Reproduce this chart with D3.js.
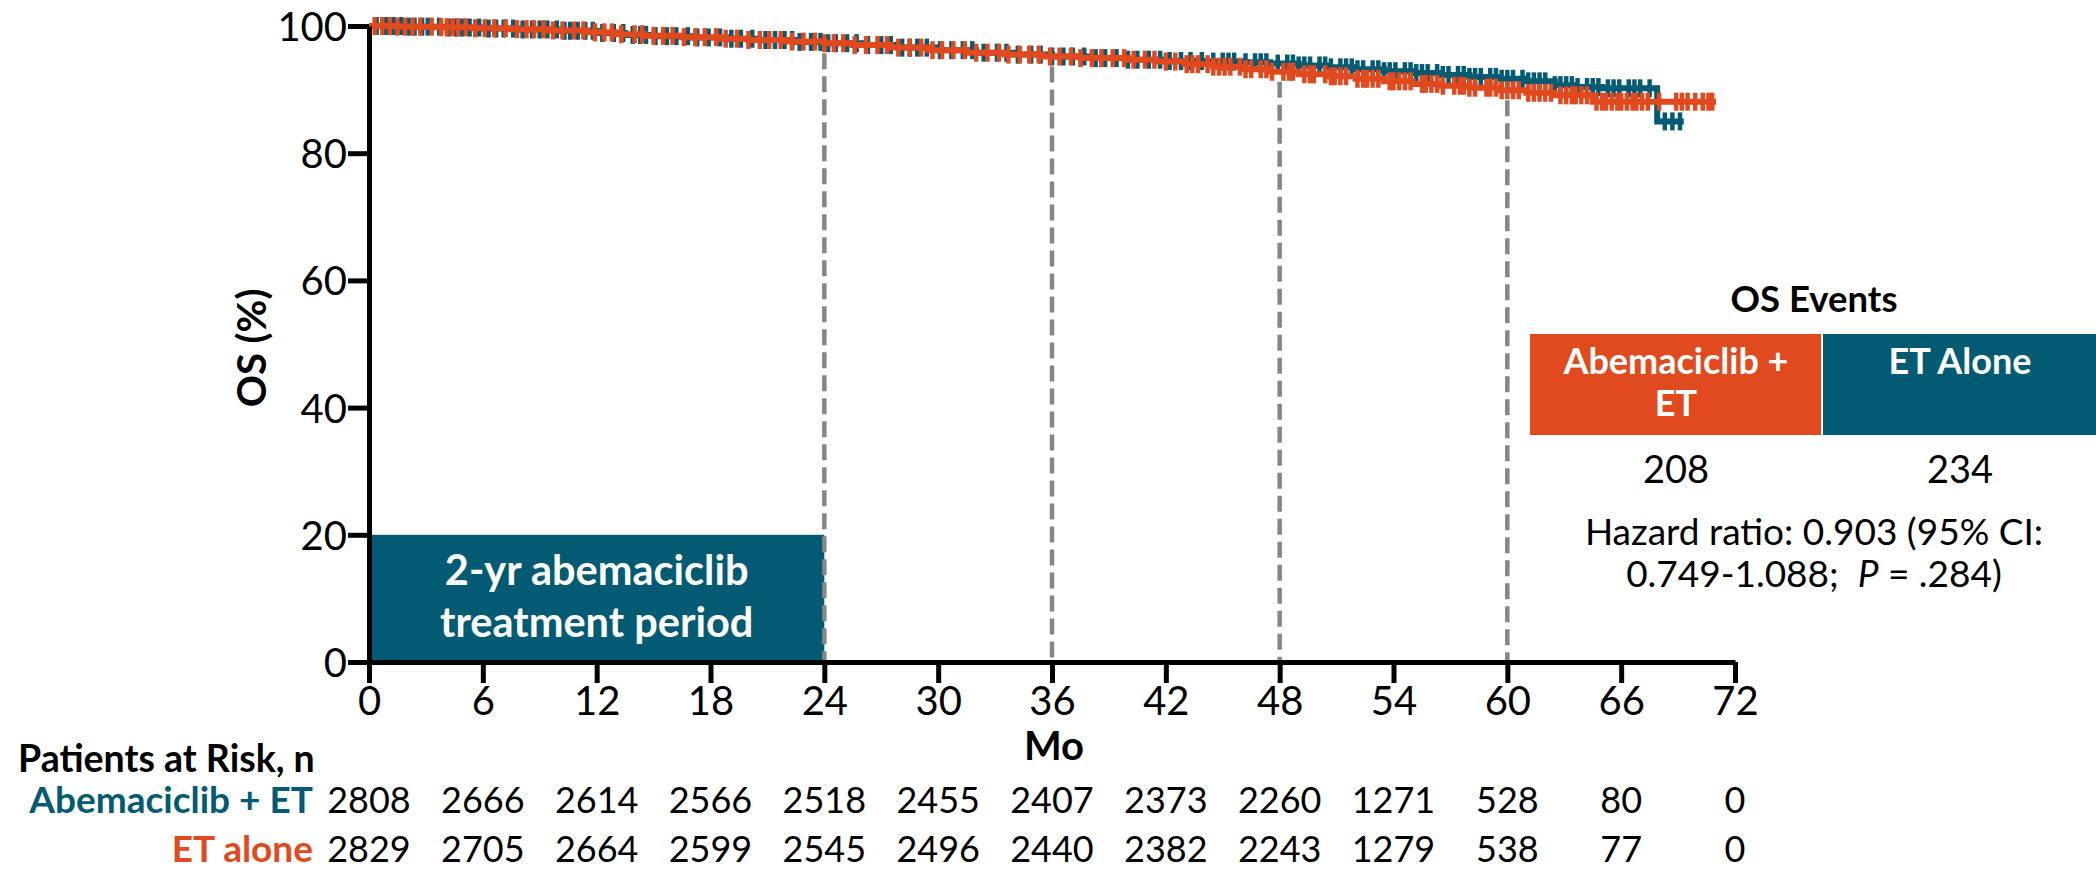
<!DOCTYPE html>
<html>
<head>
<meta charset="utf-8">
<script src="https://cdn.jsdelivr.net/npm/d3@7"></script>
<style>
  html, body { margin: 0; padding: 0; background: #fff; }
  svg { display: block; }
  text { font-family: Lato, "Noto Sans", sans-serif; }
</style>
</head>
<body>
<svg id="chart" width="2096" height="872"></svg>
<script>
// ---------------- DATA ----------------
const xTicks = [0, 6, 12, 18, 24, 30, 36, 42, 48, 54, 60, 66, 72];
const yTicks = [0, 20, 40, 60, 80, 100];

const riskAbema = [2808, 2666, 2614, 2566, 2518, 2455, 2407, 2373, 2260, 1271, 528, 80, 0];
const riskET    = [2829, 2705, 2664, 2599, 2545, 2496, 2440, 2382, 2243, 1279, 538, 77, 0];

// Abemaciclib + ET (teal) KM steps: time (months), OS (%)
const abemaTime = [0, 2, 4, 6, 8, 10, 12, 13.5, 15, 17, 19, 20.5, 22.5, 24, 26, 28, 30, 32, 34, 36, 38, 40, 42, 44, 46, 47.5, 49, 50.5, 52, 53.5, 55, 56.5, 58, 59.5, 61, 62.5, 63.5, 65, 67.9];
const abemaOS   = [100, 99.9, 99.75, 99.6, 99.45, 99.25, 98.9, 98.6, 98.4, 98.2, 98.0, 97.8, 97.5, 97.3, 97.0, 96.6, 96.2, 95.8, 95.5, 95.2, 94.95, 94.7, 94.5, 94.4, 94.3, 94.1, 93.8, 93.5, 93.2, 92.9, 92.6, 92.3, 92.0, 91.7, 91.3, 90.7, 90.4, 90.2, 85.0];
const abemaEnd  = 69.3;
const abemaCensor = [0.4, 0.9, 1.3, 1.7, 2.1, 2.4, 2.8, 3.1, 3.7, 4.2, 4.6, 4.9, 5.3, 5.8, 6.3, 6.7, 7.1, 7.6, 8.1, 8.6, 9.0, 9.4, 9.9, 10.3, 10.6, 11.0, 11.4, 11.8, 12.3, 12.9, 13.4, 13.9, 14.3, 14.6, 15.1, 15.7, 16.2, 16.8, 17.3, 17.9, 18.5, 19.1, 19.6, 20.2, 20.9, 21.4, 21.9, 22.3, 22.7, 23.3, 23.8, 24.2, 24.6, 25.2, 25.7, 26.3, 27.0, 27.5, 28.1, 28.5, 28.9, 29.4, 30.1, 30.7, 31.3, 31.8, 32.4, 33.1, 33.6, 34.2, 34.9, 35.4, 36.0, 36.6, 37.1, 37.7, 38.3, 38.8, 39.4, 40.0, 40.5, 41.1, 41.7, 42.2, 42.8, 43.3, 43.9, 44.5, 45.0, 45.3, 45.6, 46.2, 46.7, 47.0, 47.3, 47.9, 48.4, 48.7, 49.0, 49.3, 49.6, 50.1, 50.4, 50.7, 51.2, 51.5, 51.8, 52.1, 52.4, 52.9, 53.2, 53.5, 53.8, 54.1, 54.6, 54.9, 55.2, 55.5, 55.8, 56.3, 56.6, 56.9, 57.4, 57.7, 58.0, 58.3, 58.6, 59.1, 59.4, 59.7, 60.0, 60.3, 60.8, 61.1, 61.4, 61.7, 62.0, 62.5, 62.8, 63.1, 63.4, 63.7, 64.2, 64.5, 64.8, 65.3, 65.6, 65.9, 66.4, 66.7, 67.0, 67.5, 68.3, 68.7, 69.1];

// ET alone (orange) KM steps
const etTime = [0, 1.5, 3.5, 5.5, 7.5, 9.5, 11.5, 13, 14.5, 16.5, 18.5, 20, 22, 24, 25.5, 27.5, 29.5, 31.5, 33.5, 35.5, 37.5, 40, 41.5, 43, 44.5, 46, 47.5, 49, 50.5, 52, 53.5, 55, 56.5, 58, 59.5, 61, 62.5, 64.5];
const etOS   = [100, 99.9, 99.8, 99.65, 99.5, 99.3, 99.0, 98.7, 98.45, 98.25, 98.0, 97.8, 97.55, 97.3, 97.0, 96.6, 96.2, 95.8, 95.5, 95.2, 94.95, 94.7, 94.4, 94.0, 93.6, 93.2, 92.8, 92.4, 92.1, 91.7, 91.3, 90.9, 90.6, 90.3, 89.9, 89.5, 89.1, 88.1];
const etEnd  = 71.0;
const etCensor = [0.3, 0.7, 1.1, 1.5, 1.9, 2.3, 2.7, 3.3, 3.8, 4.1, 4.4, 4.7, 5.1, 5.6, 6.1, 6.6, 7.2, 7.8, 8.3, 8.7, 9.2, 9.7, 10.2, 10.8, 11.3, 11.9, 12.4, 12.8, 13.3, 14.0, 14.4, 15.0, 15.5, 16.0, 16.6, 17.2, 17.7, 18.3, 18.8, 19.4, 20.0, 20.6, 21.1, 21.7, 22.3, 22.9, 23.5, 24.0, 24.5, 25.0, 25.6, 26.2, 26.8, 27.3, 27.9, 28.5, 29.1, 29.7, 30.2, 30.8, 31.4, 32.0, 32.6, 33.2, 33.7, 34.3, 34.8, 35.3, 35.9, 36.4, 37.0, 37.5, 38.1, 38.6, 39.2, 39.8, 40.3, 40.9, 41.4, 42.0, 42.5, 43.1, 43.4, 43.7, 44.2, 44.5, 44.8, 45.1, 45.4, 45.9, 46.2, 46.5, 47.0, 47.3, 47.6, 48.2, 48.5, 48.7, 49.3, 49.6, 49.8, 50.4, 50.7, 50.9, 51.2, 51.5, 52.1, 52.4, 52.6, 52.9, 53.2, 53.8, 54.0, 54.3, 54.6, 54.9, 55.5, 55.7, 56.0, 56.3, 56.6, 57.2, 57.5, 57.7, 58.0, 58.3, 58.9, 59.1, 59.4, 59.7, 60.0, 60.3, 60.6, 61.1, 61.4, 61.7, 62.0, 62.3, 62.8, 63.1, 63.4, 63.6, 63.9, 64.2, 64.7, 65.0, 65.2, 65.5, 65.8, 66.0, 66.3, 66.6, 66.8, 67.1, 67.4, 68.0, 68.9, 69.2, 69.5, 69.9, 70.3, 70.6, 70.8];

const landmarks = [24, 36, 48, 60];

const colTeal = "#035b73";
const colOrange = "#e04a1e";
const colDash = "#868686";

// ---------------- LAYOUT ----------------
const svg = d3.select("#chart");
const x = d3.scaleLinear().domain([0, 72]).range([369, 1735]);
const y = d3.scaleLinear().domain([0, 100]).range([662, 26]);

function survAt(times, vals, t) {
  let v = vals[0];
  for (let i = 0; i < times.length; i++) { if (times[i] <= t) v = vals[i]; }
  return v;
}

// treatment period box
svg.append("rect")
  .attr("x", x(0)).attr("y", y(20))
  .attr("width", x(24) - x(0)).attr("height", y(0) - y(20))
  .attr("fill", colTeal);
const boxText = svg.append("text")
  .attr("text-anchor", "middle").attr("fill", "#fff")
  .attr("font-weight", 700).attr("font-size", 41.5);
boxText.append("tspan").attr("x", (x(0) + x(24)) / 2).attr("y", 585).text("2-yr abemaciclib");
boxText.append("tspan").attr("x", (x(0) + x(24)) / 2).attr("y", 637).text("treatment period");

// landmark dashed lines
landmarks.forEach(t => {
  const v = Math.min(survAt(abemaTime, abemaOS, t), survAt(etTime, etOS, t));
  svg.append("line")
    .attr("x1", x(t)).attr("x2", x(t))
    .attr("y1", y(v) + 10).attr("y2", y(0))
    .attr("stroke", colDash).attr("stroke-width", 4.5)
    .attr("stroke-dasharray", "16,7");
});

// KM curves
function drawKM(times, vals, end, censor, color) {
  const pts = times.map((t, i) => [t, vals[i]]);
  pts.push([end, vals[vals.length - 1]]);
  const line = d3.line().x(d => x(d[0])).y(d => y(d[1])).curve(d3.curveStepAfter);
  const g = svg.append("g");
  g.append("path").attr("d", line(pts))
    .attr("fill", "none").attr("stroke", color).attr("stroke-width", 6);
  g.selectAll("line.c").data(censor).enter().append("line")
    .attr("x1", d => x(d)).attr("x2", d => x(d))
    .attr("y1", d => y(survAt(times, vals, d)) - 9)
    .attr("y2", d => y(survAt(times, vals, d)) + 9)
    .attr("stroke", color).attr("stroke-width", 4.5);
}
drawKM(abemaTime, abemaOS, abemaEnd, abemaCensor, colTeal);
drawKM(etTime, etOS, etEnd, etCensor, colOrange);

// axes
const xAxis = svg.append("g").attr("transform", `translate(0,${y(0)})`)
  .call(d3.axisBottom(x).tickValues(xTicks).tickSize(21).tickPadding(4).tickSizeOuter(0));
const yAxis = svg.append("g").attr("transform", `translate(${x(0)},0)`)
  .call(d3.axisLeft(y).tickValues(yTicks).tickSize(21).tickPadding(1).tickSizeOuter(0));
[xAxis, yAxis].forEach(a => {
  a.select(".domain").attr("stroke", "#000").attr("stroke-width", 5);
  a.selectAll(".tick line").attr("stroke", "#000").attr("stroke-width", 5);
  a.selectAll(".tick text").attr("fill", "#000").attr("font-size", 40)
    .attr("font-family", "Lato, sans-serif");
});
xAxis.selectAll(".tick text").attr("dy", "0.71em");
yAxis.selectAll(".tick text").attr("dy", "0.36em");

// axis titles
svg.append("text").attr("x", 1054).attr("y", 760).attr("text-anchor", "middle")
  .attr("font-weight", 700).attr("font-size", 40).text("Mo");
svg.append("text").attr("transform", "translate(266,348) rotate(-90)")
  .attr("text-anchor", "middle").attr("font-weight", 700).attr("font-size", 40).text("OS (%)");

// risk table
svg.append("text").attr("x", 18).attr("y", 772).attr("font-weight", 700)
  .attr("font-size", 37.5).text("Patients at Risk, n");
svg.append("text").attr("x", 313).attr("y", 813).attr("text-anchor", "end")
  .attr("font-weight", 700).attr("font-size", 37).attr("fill", colTeal).text("Abemaciclib + ET");
svg.append("text").attr("x", 313).attr("y", 862).attr("text-anchor", "end")
  .attr("font-weight", 700).attr("font-size", 37).attr("fill", colOrange).text("ET alone");
svg.append("g").selectAll("text").data(riskAbema).enter().append("text")
  .attr("x", (d, i) => x(xTicks[i])).attr("y", 813).attr("text-anchor", "middle")
  .attr("font-size", 36).text(d => d);
svg.append("g").selectAll("text").data(riskET).enter().append("text")
  .attr("x", (d, i) => x(xTicks[i])).attr("y", 862).attr("text-anchor", "middle")
  .attr("font-size", 36).text(d => d);

// OS events panel
svg.append("text").attr("x", 1814).attr("y", 312).attr("text-anchor", "middle")
  .attr("font-weight", 700).attr("font-size", 36.5).text("OS Events");
svg.append("rect").attr("x", 1530).attr("y", 334).attr("width", 291).attr("height", 101).attr("fill", colOrange);
svg.append("rect").attr("x", 1823).attr("y", 334).attr("width", 273).attr("height", 101).attr("fill", colTeal);
const lab1 = svg.append("text").attr("text-anchor", "middle").attr("fill", "#fff")
  .attr("font-weight", 700).attr("font-size", 36);
lab1.append("tspan").attr("x", 1676).attr("y", 374).text("Abemaciclib +");
lab1.append("tspan").attr("x", 1676).attr("y", 416).text("ET");
svg.append("text").attr("x", 1960).attr("y", 374).attr("text-anchor", "middle").attr("fill", "#fff")
  .attr("font-weight", 700).attr("font-size", 36).text("ET Alone");
svg.append("text").attr("x", 1676).attr("y", 483).attr("text-anchor", "middle")
  .attr("font-size", 38).text("208");
svg.append("text").attr("x", 1960).attr("y", 483).attr("text-anchor", "middle")
  .attr("font-size", 38).text("234");
svg.append("text").attr("x", 1814).attr("y", 545).attr("text-anchor", "middle")
  .attr("font-size", 37).text("Hazard ratio: 0.903 (95% CI:");
const hr2 = svg.append("text").attr("x", 1814).attr("y", 587).attr("text-anchor", "middle")
  .attr("font-size", 37).attr("xml:space", "preserve");
hr2.append("tspan").text("0.749-1.088;  ");
hr2.append("tspan").attr("font-style", "italic").text("P");
hr2.append("tspan").text(" = .284)");
</script>
</body>
</html>
